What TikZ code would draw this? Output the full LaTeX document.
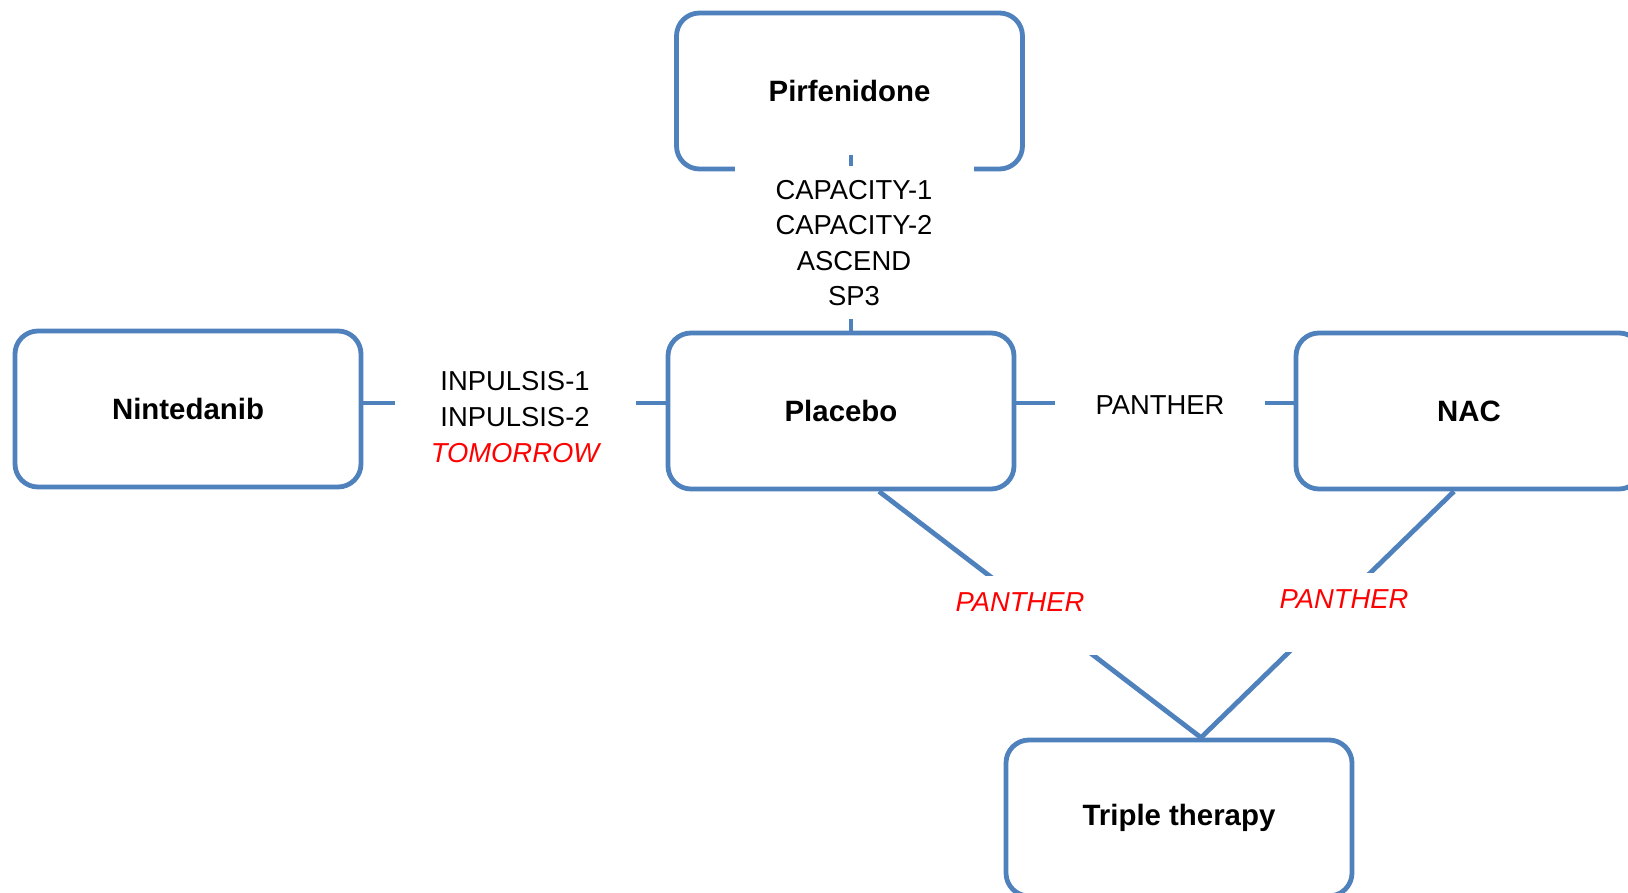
\documentclass[tikz,border=0pt]{standalone}
\usepackage{fontspec}
\setmainfont{Liberation Sans}
\usetikzlibrary{calc}
\definecolor{boxline}{HTML}{4F81BD}
\definecolor{trialred}{HTML}{FF0000}

\begin{document}
\begin{tikzpicture}[
  x=0.5pt, y=-0.5pt,
  line width=2.4pt,
  drug/.style  = {draw=boxline, line width=2.4pt, fill=white, rounded corners=11.5pt,
                  minimum width=173pt, minimum height=78pt, inner sep=0pt,
                  anchor=center, font=\fontsize{14.7}{17}\selectfont\bfseries},
  link/.style  = {draw=boxline, line width=2.4pt},
  trial/.style = {fill=white, inner sep=0pt, align=center,
                  font=\fontsize{13.7}{17.8}\selectfont},
  gap/.style   = {trial, anchor=base, text height=17.5pt, text depth=22pt,
                  minimum width=90pt, text=trialred,
                  font=\fontsize{13.7}{17.8}\selectfont\itshape}
]
\useasboundingbox (0,0) rectangle (1628,893);
\clip (0,0) rectangle (1628,893);

% treatment arms
\node[drug] (pirf) at (849.5,91) {Pirfenidone};
\node[drug] (nint) at (188,409)  {Nintedanib};
\node[drug] (plac) at (841,411)  {Placebo};
\node[drug] (nac)  at (1469,411) {NAC};
\node[drug] (trip) at (1179,818) {Triple therapy};

% comparisons
\draw[link] ($(pirf.south)+(1.5,-16)$) coordinate (pt) -- (pt |- plac.north);
\draw[link] ($(nint.east)+(0,-6)$) coordinate (nt) -- (nt -| plac.west);
\draw[link] ($(plac.east)+(0,-8)$) coordinate (pn) -- (pn -| nac.west);
\coordinate (tj) at ($(trip.north)+(22,0)$);
\draw[link] ($(plac.south)+(38,0)$) -- (tj);
\draw[link] ($(nac.south)+(-15,0)$) -- (tj);

% trial names
\node[trial, minimum width=119.5pt, minimum height=76.5pt] (tcap) at (854,243)
  {CAPACITY-1\\CAPACITY-2\\ASCEND\\SP3};
\node[trial, minimum width=120.5pt] (tinp) at (515,417)
  {INPULSIS-1\\INPULSIS-2\\{\color{trialred}\itshape TOMORROW}};
\node[trial, minimum width=105pt] (tpan) at (1160,405) {PANTHER};
\node[gap] (tpl) at (1020,611) {PANTHER};
\node[gap] (tpr) at (1344,608) {PANTHER};

\end{tikzpicture}
\end{document}
